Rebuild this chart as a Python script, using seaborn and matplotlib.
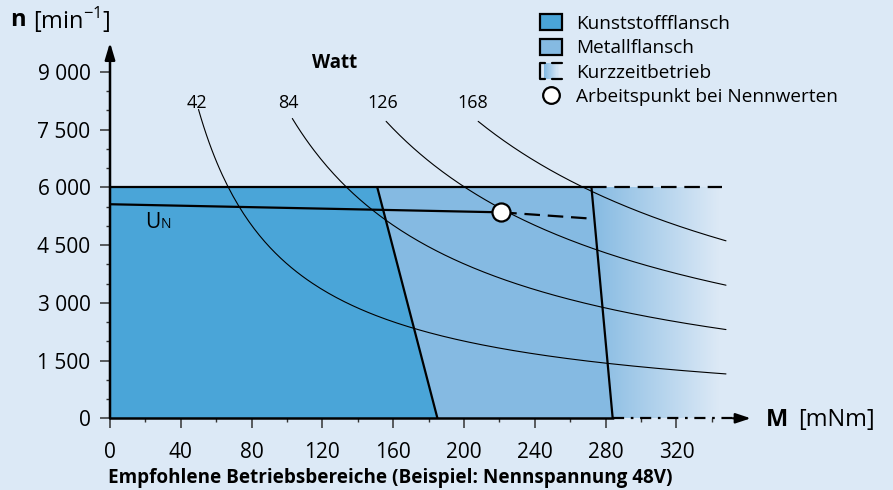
import numpy as np
import pandas as pd
import matplotlib
matplotlib.use("Agg")
import matplotlib.pyplot as plt
import seaborn as sns
from matplotlib.patches import Polygon, Rectangle, Patch
from matplotlib.lines import Line2D
from matplotlib.legend_handler import HandlerBase
from matplotlib.colors import to_rgb

# --- values ---
watt = [42, 84, 126, 168]                 # iso-power lines
curve_start_M = [50, 103, 156, 208]       # mNm where each line starts
curve_end_M = 348
watt_label_M = [49, 101, 154, 205]

kunststoff_M = [0, 0, 151, 185]
kunststoff_n = [0, 6000, 6000, 0]
metall_M = [151, 272, 284, 185]
metall_n = [6000, 6000, 0, 0]
kurzzeit_M = [272, 346]
kurzzeit_n = [6000, 6000]

un_M = [0, 221]
un_n = [5560, 5350]
un_dash_M = [221, 274]
un_dash_n = [5350, 5180]
arbeitspunkt_M = [221]
arbeitspunkt_n = [5350]

x_ticks = [0, 40, 80, 120, 160, 200, 240, 280, 320]
y_ticks = [0, 1500, 3000, 4500, 6000, 7500, 9000]
y_tick_labels = ["0", "1 500", "3 000", "4 500", "6 000", "7 500", "9 000"]

bg = "#dce9f6"
c_kunst = "#4aa5d8"
c_metall = "#85bae2"

sns.set_style("white")
plt.rcParams["font.family"] = ["Open Sans", "DejaVu Sans"]
plt.rcParams["text.color"] = "black"
plt.rcParams["xtick.labelcolor"] = "black"
plt.rcParams["ytick.labelcolor"] = "black"

fig = plt.figure(figsize=(8.93, 4.90), dpi=100)
fig.patch.set_facecolor(bg)
ax = fig.add_axes([110 / 893, (490 - 418.3) / 490, 645 / 893, 378.3 / 490])
ax.set_facecolor(bg)
ax.set_xlim(0, 364.4)
ax.set_ylim(0, 9826)
for s in ax.spines.values():
    s.set_visible(False)

# gradient for short-term operation
grad = np.linspace(0, 1, 256)
c0, c1 = np.array(to_rgb(c_metall)), np.array(to_rgb(bg))
img = (c0[None, :] * (1 - grad[:, None]) + c1[None, :] * grad[:, None])[None, :, :]
ax.imshow(img, extent=[272, 344, 0, 6000], aspect="auto", zorder=0.5, interpolation="bilinear")

# operating regions
ax.add_patch(Polygon(np.column_stack([metall_M, metall_n]), closed=True,
                     facecolor=c_metall, edgecolor="none", zorder=1))
ax.add_patch(Polygon(np.column_stack([kunststoff_M, kunststoff_n]), closed=True,
                     facecolor=c_kunst, edgecolor="none", zorder=1))
ax.plot([kunststoff_M[1], metall_M[1]], [6000, 6000], color="black", lw=1.6, zorder=3)
ax.plot(kunststoff_M[2:], kunststoff_n[2:], color="black", lw=1.6, zorder=3)
ax.plot(metall_M[1:3], metall_n[1:3], color="black", lw=1.6, zorder=3)
ax.plot(kurzzeit_M, kurzzeit_n, color="black", lw=1.6, dashes=(7, 3.5), zorder=3, clip_on=False)

# iso-power curves
rows = []
for p, m0 in zip(watt, curve_start_M):
    m = np.linspace(m0, curve_end_M, 200)
    rows.append(pd.DataFrame({"M": m, "n": p * 60000 / (2 * np.pi * m), "P": p}))
curves = pd.concat(rows)
sns.lineplot(data=curves, x="M", y="n", units="P", estimator=None, color="black",
             lw=0.8, ax=ax, zorder=2, legend=False)
for p, lm in zip(watt, watt_label_M):
    ax.text(lm, 8190, str(p), ha="center", va="center", fontsize=13)
ax.text(127, 9220, "Watt", ha="center", va="center", fontsize=13.5, fontweight="bold")

# nominal voltage line
ax.plot(un_M, un_n, color="black", lw=1.6, zorder=3)
ax.plot(un_dash_M, un_dash_n, color="black", lw=1.6, dashes=(7, 3.5), zorder=3)
ax.plot(arbeitspunkt_M, arbeitspunkt_n, marker="o", ms=13, mfc="white", mec="black",
        mew=1.6, ls="none", zorder=5)
ax.text(20, 4943, "U", fontsize=15, va="baseline")
ax.annotate("N", xy=(20, 4943), xytext=(11, 0), textcoords="offset points",
            fontsize=10, va="baseline")

# axes with arrows
ax.plot([0, 284], [0, 0], color="black", lw=1.8, zorder=4, clip_on=False)
ax.plot([284, 355], [0, 0], color="black", lw=1.6, dashes=(5, 3, 1.2, 3), zorder=4, clip_on=False)
ax.annotate("", xy=(362, 0), xytext=(352, 0), annotation_clip=False,
            arrowprops=dict(arrowstyle="-|>,head_length=0.9,head_width=0.3", lw=1.6,
                            color="black", shrinkA=0, shrinkB=0))
ax.annotate("", xy=(0, 9760), xytext=(0, 0), annotation_clip=False,
            arrowprops=dict(arrowstyle="-|>,head_length=1.0,head_width=0.3", lw=1.8,
                            color="black", shrinkA=0, shrinkB=0))

ax.set_xticks(x_ticks)
ax.set_xticks(range(20, 360, 40), minor=True)
ax.set_yticks(y_ticks)
ax.set_yticklabels(y_tick_labels)
ax.set_yticks([v for v in range(500, 9000, 500) if v % 1500], minor=True)
ax.tick_params(which="major", direction="out", length=7, width=1.1, color="#333333",
               labelsize=15, labelcolor="black", pad=7, bottom=True, left=True)
ax.tick_params(axis="x", which="major", pad=10)
ax.tick_params(which="minor", direction="out", length=3, width=1.0, color="#333333",
               bottom=True, left=True)
ax.set_xlabel("")
ax.set_ylabel("")

# axis titles
fig.text(10 / 893, 1 - 20 / 490, "n", fontsize=17, fontweight="bold", va="center")
fig.text(33 / 893, 1 - 20 / 490, r"[min$^{\mathregular{-1}}$]", fontsize=17, va="center")
fig.text(766 / 893, 1 - 420 / 490, "M", fontsize=17, fontweight="bold", va="center")
fig.text(798 / 893, 1 - 420 / 490, "[mNm]", fontsize=17, va="center")
fig.text(108 / 893, 1 - 478 / 490, "Empfohlene Betriebsbereiche (Beispiel: Nennspannung 48V)",
         fontsize=13.6, fontweight="bold", va="center")


# legend
class ShortTerm:
    pass


class ShortTermHandler(HandlerBase):
    def create_artists(self, legend, orig_handle, xdescent, ydescent, width, height, fontsize, trans):
        x0, y0 = -xdescent, -ydescent
        arts = []
        steps = 14
        for i in range(steps):
            f = i / (steps - 1)
            c = c0 * (1 - f) + c1 * f
            arts.append(Rectangle((x0 + width * (0.15 + 0.75 * i / steps), y0), width * 0.75 / steps + 0.3,
                                  height, facecolor=c, edgecolor="none", transform=trans))
        arts.append(Line2D([x0 + width * 0.2, x0, x0, x0 + width * 0.2], [y0 + height, y0 + height, y0, y0],
                           color="black", lw=1.6, transform=trans))
        for yy in (y0, y0 + height):
            arts.append(Line2D([x0 + width * 0.55, x0 + width], [yy, yy], color="black", lw=1.6, transform=trans))
        return arts


handles = [Patch(facecolor=c_kunst, edgecolor="black", lw=1.6),
           Patch(facecolor=c_metall, edgecolor="black", lw=1.6),
           ShortTerm(),
           Line2D([], [], marker="o", ms=12, mfc="white", mec="black", mew=1.6, ls="none")]
labels = ["Kunststoffflansch", "Metallflansch", "Kurzzeitbetrieb", "Arbeitspunkt bei Nennwerten"]
fig.legend(handles, labels, loc="upper left", bbox_to_anchor=(527 / 893, 1 - 1 / 490),
           frameon=False, fontsize=13.7, handlelength=1.15, handleheight=0.9,
           handletextpad=0.75, labelspacing=0.32, borderpad=0.2,
           handler_map={ShortTerm: ShortTermHandler()})

fig.savefig("out.png", dpi=100, facecolor=bg)
